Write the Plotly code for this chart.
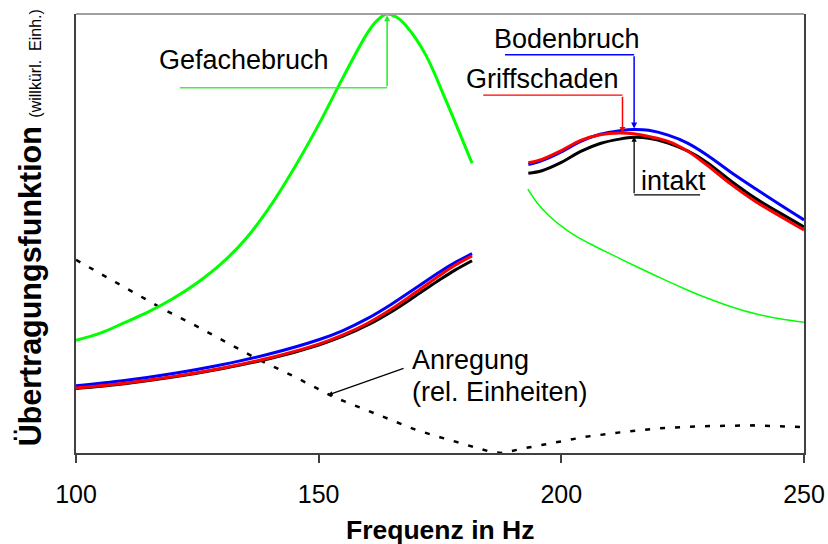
import plotly.graph_objects as go

# ---- data (x: frequency in Hz, y: arbitrary units 0..100) ----
freq_green_low = [100, 105, 110, 115, 120, 125, 130, 135, 140, 145, 150, 155, 160, 162, 164, 166, 168, 172, 176, 180, 181.6]
gefache_low = [25.7, 27.3, 29.7, 32.2, 35.2, 38.8, 43.2, 48.8, 56.2, 65.0, 74.8, 85.5, 95.6, 98.5, 100, 99.3, 97.3, 90.8, 80.9, 70.3, 66.0]
freq_green_high = [193.1, 195, 197.5, 200, 203, 206, 210, 215, 220, 225, 230, 235, 240, 245, 250]
gefache_high = [60.1, 57.0, 54.0, 51.7, 49.4, 47.6, 45.4, 42.7, 40.1, 37.6, 35.3, 33.3, 31.7, 30.6, 29.8]

freq_low = [100, 110, 120, 130, 140, 150, 155, 160, 165, 170, 175, 178, 181.6]
boden_low = [15.3, 16.5, 18.1, 20.1, 22.6, 25.8, 27.9, 30.6, 33.9, 37.6, 41.3, 43.3, 45.4]
griff_low = [14.8, 15.9, 17.4, 19.3, 21.7, 24.8, 26.9, 29.5, 32.8, 36.6, 40.5, 42.7, 44.9]
intakt_low = [14.7, 15.8, 17.3, 19.2, 21.5, 24.6, 26.6, 29.1, 32.2, 35.8, 39.5, 41.6, 43.8]

freq_high = [193.2, 196, 200, 204, 208, 212, 215, 218, 222, 226, 230, 235, 240, 245, 250]
boden_high = [65.7, 66.6, 68.6, 71.0, 72.6, 73.4, 73.7, 73.5, 72.4, 70.6, 67.9, 63.9, 60.2, 56.6, 53.1]
griff_high = [66.1, 66.9, 68.9, 71.2, 72.5, 72.9, 72.7, 72.1, 71.0, 68.8, 65.6, 61.2, 57.3, 54.0, 50.8]
intakt_high = [63.7, 64.3, 66.2, 68.7, 70.5, 71.5, 71.9, 71.7, 70.6, 68.8, 66.2, 61.9, 58.0, 54.7, 51.5]

freq_exc = [100, 110, 117.6, 125, 137.2, 145, 153, 160, 165, 170.2, 175, 180, 185.3, 188, 192, 198.3, 205, 212.1, 220, 229.2, 239.5, 250]
anregung = [44, 37.8, 33, 28.8, 21.5, 17.4, 12.8, 9.7, 7.5, 5.2, 3.6, 2.0, 0.3, 0, 1.0, 2.3, 3.7, 4.7, 5.6, 6.1, 6.3, 5.9]

x_ticks = [100, 150, 200, 250]
x_tick_labels = ["100", "150", "200", "250"]

FONT = "Liberation Sans, Arial, sans-serif"
GREEN = "#00ff00"
BLUE = "#0000ff"
RED = "#ff0000"
BLACK = "#000000"

fig = go.Figure()

def add_line(x, y, color, width, dash=None, shape="spline"):
    line = dict(color=color, width=width, dash=dash, shape=shape)
    if shape == "spline":
        line["smoothing"] = 1.0
    fig.add_trace(go.Scatter(x=x, y=y, mode="lines", line=line,
                             showlegend=False, hoverinfo="skip"))

add_line(freq_exc, anregung, BLACK, 2.5, dash="5px,10px", shape="linear")
add_line(freq_green_low, gefache_low, GREEN, 3)
add_line(freq_green_high, gefache_high, GREEN, 1.5)
add_line(freq_low, intakt_low, BLACK, 3)
add_line(freq_low, boden_low, BLUE, 3)
add_line(freq_low, griff_low, RED, 3)
add_line(freq_high, intakt_high, BLACK, 3)
add_line(freq_high, boden_high, BLUE, 3)
add_line(freq_high, griff_high, RED, 3)

annotations = []
shapes = []

def text_ann(x, y, text, xanchor="center", size=27, xref="x", yref="y"):
    annotations.append(dict(x=x, y=y, xref=xref, yref=yref, text=text, showarrow=False,
                            xanchor=xanchor, yanchor="middle",
                            font=dict(family=FONT, size=size, color="black")))

def arrow(hx, hy, tx, ty, color, width=1.5):
    annotations.append(dict(x=hx, y=hy, ax=tx, ay=ty, xref="x", yref="y", axref="x", ayref="y",
                            text="", showarrow=True, arrowhead=2, arrowsize=0.8,
                            arrowwidth=width, arrowcolor=color))

def seg(x0, y0, x1, y1, color, width=1.5):
    shapes.append(dict(type="line", x0=x0, y0=y0, x1=x1, y1=y1, xref="x", yref="y",
                       line=dict(color=color, width=width)))

# Gefachebruch
text_ann(134.7, 89.6, "Gefachebruch")
seg(121.4, 83.2, 164.1, 83.2, "#44ee44", 1.5)
arrow(164.1, 99.7, 164.1, 83.2, "#22ee22")
# Bodenbruch
text_ann(201.1, 94.2, "Bodenbruch")
seg(188.4, 90.7, 215.0, 90.7, BLUE, 1.5)
arrow(215.0, 73.9, 215.0, 90.7, BLUE)
# Griffschaden
text_ann(196.1, 85.2, "Griffschaden")
seg(183.9, 81.5, 212.6, 81.5, RED, 1.3)
arrow(212.6, 72.9, 212.6, 81.5, RED)
# intakt
text_ann(223.1, 62.0, "intakt")
seg(215.0, 58.8, 228.6, 58.8, BLACK, 1.3)
arrow(215.0, 72.1, 215.0, 58.8, BLACK, 1.3)
# Anregung
text_ann(168.8, 21.2, "Anregung", xanchor="left")
text_ann(168.8, 14.0, "(rel. Einheiten)", xanchor="left")
arrow(151.9, 13.2, 167.8, 19.4, BLACK, 1.2)

# axis titles
annotations.append(dict(x=0.5, y=-0.176, xref="paper", yref="paper", showarrow=False,
                        text="<b>Frequenz in Hz</b>", xanchor="center", yanchor="middle",
                        font=dict(family=FONT, size=26.5, color="black")))
annotations.append(dict(x=-0.063, y=0.512, xref="paper", yref="paper", showarrow=False,
                        textangle=-90, xanchor="center", yanchor="middle",
                        text="<b>Übertragungsfunktion</b> <span style='font-size:16px'>(willkürl.\u00a0\u00a0Einh.)</span>",
                        font=dict(family=FONT, size=30.5, color="black")))

# top frame line (lighter)
shapes.append(dict(type="line", x0=0, x1=1, y0=1, y1=1, xref="paper", yref="paper",
                   line=dict(color="#a0a0a0", width=2)))

fig.update_layout(
    template="none",
    width=828, height=544,
    margin=dict(l=76, r=24, t=14, b=91, pad=0, autoexpand=False),
    paper_bgcolor="white", plot_bgcolor="white",
    font=dict(family=FONT, size=25, color="black"),
    annotations=annotations, shapes=shapes,
    xaxis=dict(range=[100, 250], tickvals=x_ticks, ticktext=x_tick_labels, automargin=False,
               showgrid=False, zeroline=False, showline=True, linecolor="#404040", linewidth=2,
               ticks="outside", ticklen=8, tickwidth=1.5, tickcolor="#404040",
               tickfont=dict(family=FONT, size=25, color="black"), ticklabelstandoff=10),
    yaxis=dict(range=[0, 100], showgrid=False, zeroline=False, showticklabels=False, automargin=False,
               showline=True, linecolor="#404040", linewidth=2, mirror=True, ticks=""),
)

fig.write_html("out.html")
